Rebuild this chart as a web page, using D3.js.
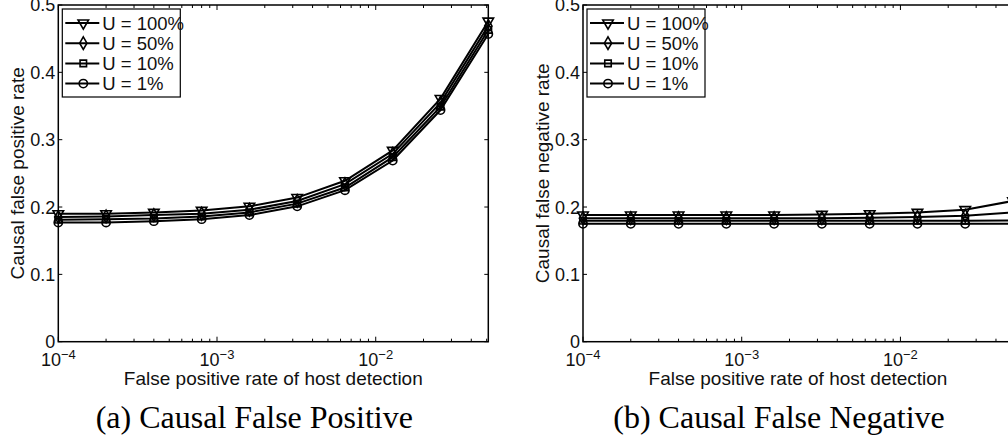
<!DOCTYPE html>
<html>
<head>
<meta charset="utf-8">
<script src="https://cdn.jsdelivr.net/npm/d3@7"></script>
<style>
  body { margin: 0; background: #fff; }
  svg { display: block; }
</style>
</head>
<body>
<svg id="chart" width="1008" height="440"></svg>
<script>
// host detection false positive rate (x) and series per utilisation U
const xValues = [1e-4, 2e-4, 4e-4, 8e-4, 1.6e-3, 3.2e-3, 6.4e-3, 1.28e-2, 2.56e-2, 5.12e-2]
const seriesNames = ['U = 100%', 'U = 50%', 'U = 10%', 'U = 1%']
const markerTypes = ['tri', 'diamond', 'square', 'circle']

// (a) causal false positive
const fpU100 = [0.190, 0.190, 0.192, 0.195, 0.201, 0.214, 0.239, 0.284, 0.361, 0.476]
const fpU50 = [0.185, 0.186, 0.188, 0.190, 0.196, 0.209, 0.234, 0.279, 0.355, 0.469]
const fpU10 = [0.181, 0.182, 0.183, 0.186, 0.192, 0.205, 0.229, 0.274, 0.349, 0.463]
const fpU1 = [0.177, 0.177, 0.179, 0.182, 0.188, 0.201, 0.225, 0.269, 0.344, 0.457]

// (b) causal false negative
const fnU100 = [0.188, 0.188, 0.188, 0.188, 0.188, 0.189, 0.190, 0.192, 0.196, 0.209]
const fnU50 = [0.1835, 0.1835, 0.1835, 0.1835, 0.1835, 0.1835, 0.184, 0.185, 0.187, 0.192]
const fnU10 = [0.1795, 0.1795, 0.1795, 0.1795, 0.1795, 0.1795, 0.1795, 0.1795, 0.1795, 0.180]
const fnU1 = [0.175, 0.175, 0.175, 0.175, 0.175, 0.175, 0.175, 0.175, 0.175, 0.175]

const yTicks = [0, 0.1, 0.2, 0.3, 0.4, 0.5]
const yTickLabels = ['0', '0.1', '0.2', '0.3', '0.4', '0.5']
const xTickExps = [-4, -3, -2]

const sans = 'Arial, "Liberation Sans", Helvetica, sans-serif'
const serif = '"Times New Roman", "Liberation Serif", Times, serif'

const svg = d3.select('#chart')

function markerPath(type) {
  if (type === 'tri') return d3.symbol().type(d3.symbolTriangle).size(48)()
  if (type === 'diamond') return d3.symbol().type(d3.symbolDiamond).size(46)()
  if (type === 'square') return d3.symbol().type(d3.symbolSquare).size(42)()
  return d3.symbol().type(d3.symbolCircle).size(54)()
}

function drawMarker(sel, type, cx, cy) {
  sel.append('path')
    .attr('d', markerPath(type))
    .attr('transform', `translate(${cx},${cy})` + (type === 'tri' ? ' rotate(180)' : ''))
    .attr('fill', 'none')
    .attr('stroke', '#000')
    .attr('stroke-width', 1.6)
}

function drawPanel(left, seriesList, yLabel, caption) {
  const innerW = 430
  const innerH = 336.7
  const top = 5
  const g = svg.append('g').attr('transform', `translate(${left},${top})`)

  const x = d3.scaleLog().domain([1e-4, 0.0512]).range([0, innerW])
  const y = d3.scaleLinear().domain([0, 0.5]).range([innerH, 0])

  // x ticks (major + minor, bottom and top)
  const tickG = g.append('g').attr('stroke', '#000').attr('stroke-width', 1)
  xTickExps.forEach(e => {
    for (let m = 1; m <= 9; m++) {
      const v = m * Math.pow(10, e)
      if (v > 0.0512) continue
      const px = x(v)
      const len = m === 1 ? 5 : 3
      tickG.append('line').attr('x1', px).attr('x2', px).attr('y1', innerH).attr('y2', innerH - len)
      tickG.append('line').attr('x1', px).attr('x2', px).attr('y1', 0).attr('y2', len)
    }
  })
  // y ticks (left and right)
  yTicks.forEach(v => {
    tickG.append('line').attr('x1', 0).attr('x2', 4).attr('y1', y(v)).attr('y2', y(v))
    tickG.append('line').attr('x1', innerW).attr('x2', innerW - 4).attr('y1', y(v)).attr('y2', y(v))
  })

  // y tick labels
  yTicks.forEach((v, i) => {
    g.append('text')
      .attr('x', -3)
      .attr('y', y(v))
      .attr('dy', '0.36em')
      .attr('text-anchor', 'end')
      .attr('font-family', sans)
      .attr('font-size', 18)
      .attr('fill', '#111')
      .text(yTickLabels[i])
  })

  // x tick labels 10^e
  xTickExps.forEach(e => {
    const t = g.append('text')
      .attr('x', x(Math.pow(10, e)))
      .attr('y', innerH + 24.5)
      .attr('text-anchor', 'middle')
      .attr('font-family', sans)
      .attr('font-size', 18)
      .attr('fill', '#111')
    t.append('tspan').text('10')
    t.append('tspan').attr('dy', -7).attr('font-size', 13).text('\u2212' + Math.abs(e))
  })

  // axis labels
  g.append('text')
    .attr('x', innerW / 2)
    .attr('y', innerH + 43.5)
    .attr('text-anchor', 'middle')
    .attr('font-family', sans)
    .attr('font-size', 19)
    .attr('fill', '#111')
    .text('False positive rate of host detection')

  g.append('text')
    .attr('transform', `translate(-34,${innerH / 2}) rotate(-90)`)
    .attr('text-anchor', 'middle')
    .attr('font-family', sans)
    .attr('font-size', 19)
    .attr('fill', '#111')
    .text(yLabel)

  // series
  const line = d3.line().x((d, i) => x(xValues[i])).y(d => y(d))
  seriesList.forEach((vals, si) => {
    g.append('path')
      .datum(vals)
      .attr('d', line)
      .attr('fill', 'none')
      .attr('stroke', '#000')
      .attr('stroke-width', 2)
    const mg = g.append('g')
    vals.forEach((v, i) => drawMarker(mg, markerTypes[si], x(xValues[i]), y(v)))
  })

  // axes box
  g.append('rect')
    .attr('width', innerW)
    .attr('height', innerH)
    .attr('fill', 'none')
    .attr('stroke', '#000')
    .attr('stroke-width', 1.5)

  // legend
  const lg = g.append('g').attr('transform', 'translate(4,4)')
  lg.append('rect')
    .attr('width', 118)
    .attr('height', 88)
    .attr('fill', '#fff')
    .attr('stroke', '#000')
    .attr('stroke-width', 1.2)
  seriesNames.forEach((name, i) => {
    const ry = 14 + i * 20.2
    lg.append('line')
      .attr('x1', 3).attr('x2', 37).attr('y1', ry).attr('y2', ry)
      .attr('stroke', '#000').attr('stroke-width', 2)
    drawMarker(lg, markerTypes[i], 21, ry)
    lg.append('text')
      .attr('x', 40)
      .attr('y', ry)
      .attr('dy', '0.36em')
      .attr('font-family', sans)
      .attr('font-size', 18.5)
      .attr('fill', '#111')
      .text(name)
  })

  // caption
  svg.append('text')
    .attr('x', left + 196)
    .attr('y', 428)
    .attr('text-anchor', 'middle')
    .attr('font-family', serif)
    .attr('font-size', 32)
    .attr('fill', '#000')
    .text(caption)
}

drawPanel(58.3, [fpU100, fpU50, fpU10, fpU1], 'Causal false positive rate', '(a) Causal False Positive')
drawPanel(583, [fnU100, fnU50, fnU10, fnU1], 'Causal false negative rate', '(b) Causal False Negative')
</script>
</body>
</html>
